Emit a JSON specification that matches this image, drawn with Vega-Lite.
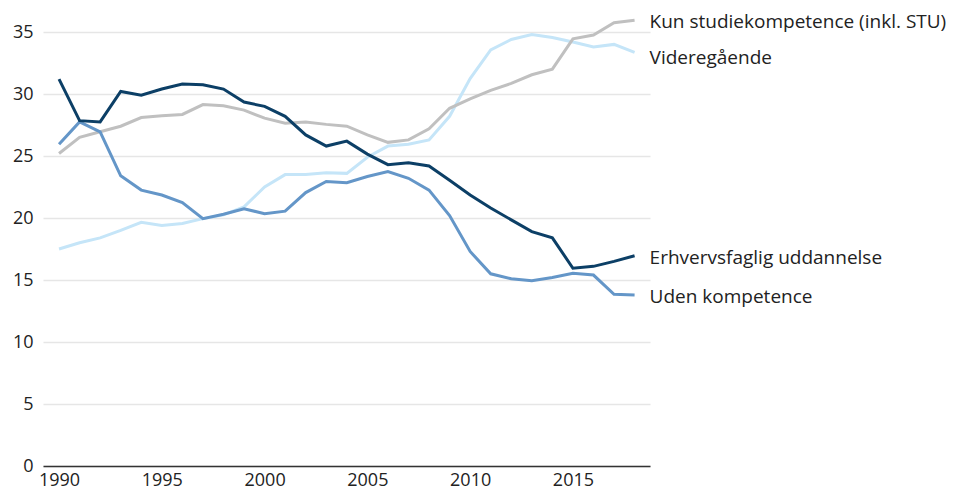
{
  "$schema": "https://vega.github.io/schema/vega-lite/v6.json",
  "autosize": "none",
  "width": 607,
  "height": 434,
  "padding": {"left": 43, "top": 32, "right": 304, "bottom": 32},
  "background": "white",
  "config": {
    "view": {"stroke": null},
    "font": "Open Sans",
    "axis": {"labelFont": "Open Sans", "labelFontSize": 18, "labelColor": "#222222", "title": null}
  },
  "data": {"values": [
    {"series":"Videregående","year":1990,"value":17.5},
    {"series":"Videregående","year":1991,"value":18.0},
    {"series":"Videregående","year":1992,"value":18.4},
    {"series":"Videregående","year":1993,"value":19.0},
    {"series":"Videregående","year":1994,"value":19.65},
    {"series":"Videregående","year":1995,"value":19.4},
    {"series":"Videregående","year":1996,"value":19.55},
    {"series":"Videregående","year":1997,"value":19.95},
    {"series":"Videregående","year":1998,"value":20.25},
    {"series":"Videregående","year":1999,"value":20.9},
    {"series":"Videregående","year":2000,"value":22.5},
    {"series":"Videregående","year":2001,"value":23.5},
    {"series":"Videregående","year":2002,"value":23.5},
    {"series":"Videregående","year":2003,"value":23.65},
    {"series":"Videregående","year":2004,"value":23.6},
    {"series":"Videregående","year":2005,"value":24.9},
    {"series":"Videregående","year":2006,"value":25.8},
    {"series":"Videregående","year":2007,"value":25.95},
    {"series":"Videregående","year":2008,"value":26.3},
    {"series":"Videregående","year":2009,"value":28.2},
    {"series":"Videregående","year":2010,"value":31.25},
    {"series":"Videregående","year":2011,"value":33.55},
    {"series":"Videregående","year":2012,"value":34.4},
    {"series":"Videregående","year":2013,"value":34.8},
    {"series":"Videregående","year":2014,"value":34.55},
    {"series":"Videregående","year":2015,"value":34.2},
    {"series":"Videregående","year":2016,"value":33.8},
    {"series":"Videregående","year":2017,"value":34.0},
    {"series":"Videregående","year":2018,"value":33.35},
    {"series":"Kun studiekompetence (inkl. STU)","year":1990,"value":25.2},
    {"series":"Kun studiekompetence (inkl. STU)","year":1991,"value":26.5},
    {"series":"Kun studiekompetence (inkl. STU)","year":1992,"value":26.95},
    {"series":"Kun studiekompetence (inkl. STU)","year":1993,"value":27.4},
    {"series":"Kun studiekompetence (inkl. STU)","year":1994,"value":28.1},
    {"series":"Kun studiekompetence (inkl. STU)","year":1995,"value":28.25},
    {"series":"Kun studiekompetence (inkl. STU)","year":1996,"value":28.35},
    {"series":"Kun studiekompetence (inkl. STU)","year":1997,"value":29.15},
    {"series":"Kun studiekompetence (inkl. STU)","year":1998,"value":29.05},
    {"series":"Kun studiekompetence (inkl. STU)","year":1999,"value":28.7},
    {"series":"Kun studiekompetence (inkl. STU)","year":2000,"value":28.05},
    {"series":"Kun studiekompetence (inkl. STU)","year":2001,"value":27.65},
    {"series":"Kun studiekompetence (inkl. STU)","year":2002,"value":27.75},
    {"series":"Kun studiekompetence (inkl. STU)","year":2003,"value":27.55},
    {"series":"Kun studiekompetence (inkl. STU)","year":2004,"value":27.4},
    {"series":"Kun studiekompetence (inkl. STU)","year":2005,"value":26.7},
    {"series":"Kun studiekompetence (inkl. STU)","year":2006,"value":26.1},
    {"series":"Kun studiekompetence (inkl. STU)","year":2007,"value":26.3},
    {"series":"Kun studiekompetence (inkl. STU)","year":2008,"value":27.2},
    {"series":"Kun studiekompetence (inkl. STU)","year":2009,"value":28.85},
    {"series":"Kun studiekompetence (inkl. STU)","year":2010,"value":29.6},
    {"series":"Kun studiekompetence (inkl. STU)","year":2011,"value":30.3},
    {"series":"Kun studiekompetence (inkl. STU)","year":2012,"value":30.85},
    {"series":"Kun studiekompetence (inkl. STU)","year":2013,"value":31.55},
    {"series":"Kun studiekompetence (inkl. STU)","year":2014,"value":32.0},
    {"series":"Kun studiekompetence (inkl. STU)","year":2015,"value":34.45},
    {"series":"Kun studiekompetence (inkl. STU)","year":2016,"value":34.75},
    {"series":"Kun studiekompetence (inkl. STU)","year":2017,"value":35.75},
    {"series":"Kun studiekompetence (inkl. STU)","year":2018,"value":35.95},
    {"series":"Uden kompetence","year":1990,"value":25.95},
    {"series":"Uden kompetence","year":1991,"value":27.75},
    {"series":"Uden kompetence","year":1992,"value":26.95},
    {"series":"Uden kompetence","year":1993,"value":23.4},
    {"series":"Uden kompetence","year":1994,"value":22.25},
    {"series":"Uden kompetence","year":1995,"value":21.85},
    {"series":"Uden kompetence","year":1996,"value":21.25},
    {"series":"Uden kompetence","year":1997,"value":19.95},
    {"series":"Uden kompetence","year":1998,"value":20.3},
    {"series":"Uden kompetence","year":1999,"value":20.75},
    {"series":"Uden kompetence","year":2000,"value":20.35},
    {"series":"Uden kompetence","year":2001,"value":20.55},
    {"series":"Uden kompetence","year":2002,"value":22.05},
    {"series":"Uden kompetence","year":2003,"value":22.95},
    {"series":"Uden kompetence","year":2004,"value":22.85},
    {"series":"Uden kompetence","year":2005,"value":23.35},
    {"series":"Uden kompetence","year":2006,"value":23.75},
    {"series":"Uden kompetence","year":2007,"value":23.2},
    {"series":"Uden kompetence","year":2008,"value":22.25},
    {"series":"Uden kompetence","year":2009,"value":20.2},
    {"series":"Uden kompetence","year":2010,"value":17.3},
    {"series":"Uden kompetence","year":2011,"value":15.5},
    {"series":"Uden kompetence","year":2012,"value":15.1},
    {"series":"Uden kompetence","year":2013,"value":14.95},
    {"series":"Uden kompetence","year":2014,"value":15.2},
    {"series":"Uden kompetence","year":2015,"value":15.55},
    {"series":"Uden kompetence","year":2016,"value":15.4},
    {"series":"Uden kompetence","year":2017,"value":13.85},
    {"series":"Uden kompetence","year":2018,"value":13.8},
    {"series":"Erhvervsfaglig uddannelse","year":1990,"value":31.2},
    {"series":"Erhvervsfaglig uddannelse","year":1991,"value":27.85},
    {"series":"Erhvervsfaglig uddannelse","year":1992,"value":27.75},
    {"series":"Erhvervsfaglig uddannelse","year":1993,"value":30.2},
    {"series":"Erhvervsfaglig uddannelse","year":1994,"value":29.9},
    {"series":"Erhvervsfaglig uddannelse","year":1995,"value":30.4},
    {"series":"Erhvervsfaglig uddannelse","year":1996,"value":30.8},
    {"series":"Erhvervsfaglig uddannelse","year":1997,"value":30.75},
    {"series":"Erhvervsfaglig uddannelse","year":1998,"value":30.4},
    {"series":"Erhvervsfaglig uddannelse","year":1999,"value":29.35},
    {"series":"Erhvervsfaglig uddannelse","year":2000,"value":29.0},
    {"series":"Erhvervsfaglig uddannelse","year":2001,"value":28.2},
    {"series":"Erhvervsfaglig uddannelse","year":2002,"value":26.7},
    {"series":"Erhvervsfaglig uddannelse","year":2003,"value":25.8},
    {"series":"Erhvervsfaglig uddannelse","year":2004,"value":26.2},
    {"series":"Erhvervsfaglig uddannelse","year":2005,"value":25.15},
    {"series":"Erhvervsfaglig uddannelse","year":2006,"value":24.3},
    {"series":"Erhvervsfaglig uddannelse","year":2007,"value":24.45},
    {"series":"Erhvervsfaglig uddannelse","year":2008,"value":24.2},
    {"series":"Erhvervsfaglig uddannelse","year":2009,"value":23.05},
    {"series":"Erhvervsfaglig uddannelse","year":2010,"value":21.85},
    {"series":"Erhvervsfaglig uddannelse","year":2011,"value":20.8},
    {"series":"Erhvervsfaglig uddannelse","year":2012,"value":19.85},
    {"series":"Erhvervsfaglig uddannelse","year":2013,"value":18.9},
    {"series":"Erhvervsfaglig uddannelse","year":2014,"value":18.4},
    {"series":"Erhvervsfaglig uddannelse","year":2015,"value":15.95},
    {"series":"Erhvervsfaglig uddannelse","year":2016,"value":16.1},
    {"series":"Erhvervsfaglig uddannelse","year":2017,"value":16.5},
    {"series":"Erhvervsfaglig uddannelse","year":2018,"value":16.95}
  ]},
  "encoding": {
    "x": {
      "field": "year", "type": "quantitative",
      "scale": {"domain": [1989.22, 2018.75], "nice": false, "zero": false},
      "axis": {"values": [1990, 1995, 2000, 2005, 2010, 2015], "format": "d", "grid": false, "ticks": false,
               "domain": true, "domainColor": "#333333", "domainWidth": 1.5, "labelPadding": 5, "labelFlush": false}
    },
    "y": {
      "field": "value", "type": "quantitative",
      "scale": {"domain": [0, 35], "nice": false},
      "axis": {"values": [0, 5, 10, 15, 20, 25, 30, 35], "grid": true, "gridColor": "#e6e6e6", "gridWidth": 1.5,
               "ticks": false, "domain": false, "labelPadding": 10}
    },
    "color": {
      "field": "series", "type": "nominal", "legend": null,
      "scale": {
        "domain": ["Videregående", "Kun studiekompetence (inkl. STU)", "Uden kompetence", "Erhvervsfaglig uddannelse"],
        "range": ["#c5e5f8", "#c0c0c0", "#6496c8", "#0c3f66"]
      }
    }
  },
  "layer": [
    {"mark": {"type": "line", "strokeWidth": 3, "clip": false, "strokeJoin": "miter"}},
    {
      "transform": [{"filter": "datum.year == 2018 && datum.series != 'Videregående'"}],
      "mark": {"type": "text", "align": "left", "baseline": "middle", "dx": 15, "dy": 2, "fontSize": 19, "font": "Open Sans", "color": "#222222"},
      "encoding": {"text": {"field": "series"}, "color": {"value": "#222222"}}
    },
    {
      "transform": [{"filter": "datum.year == 2018 && datum.series == 'Videregående'"}],
      "mark": {"type": "text", "align": "left", "baseline": "middle", "dx": 15, "dy": 6, "fontSize": 19, "font": "Open Sans", "color": "#222222"},
      "encoding": {"text": {"field": "series"}, "color": {"value": "#222222"}}
    }
  ]
}
